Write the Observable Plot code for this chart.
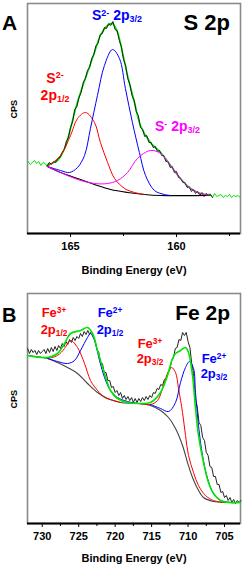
<!DOCTYPE html>
<html><head><meta charset="utf-8">
<script src="https://cdn.jsdelivr.net/npm/d3@7"></script>
<script src="https://cdn.jsdelivr.net/npm/@observablehq/plot@0.6"></script>
<style>
html,body{margin:0;padding:0;background:#fff;}
#wrap{position:relative;width:242px;height:564px;font-family:"Liberation Sans",Arial,sans-serif;overflow:hidden;background:#fff}
#wrap svg{display:block}
.lbl{position:absolute;font-weight:bold;white-space:nowrap;line-height:1}
.c{text-align:center}
.sup{font-size:0.64em;position:relative;top:-0.5em}
.sub{font-size:0.64em;position:relative;top:0.22em}
</style></head>
<body><div id="wrap"></div>
<script>
// ---------- Panel A: S 2p ----------
const sDataStart = 167.0, sDataStep = 0.1;
const sDataCps = [72,69,71,73,70,72,68,71,70,67, 71,69,72,71,75,76,81,84,92,96,
  106,112,124,127,136,141,151,155,163,166, 175,179,188,190,199,200,206,205,210,208,
  212,204,203,193,187,174,168,155,149,138, 133,122,118,106,104,97,98,91,91,86,
  87,82,83,78,78,72,72,66,67,61, 62,56,55,51,51,46,47,42,44,40,
  42,38,41,37,40,38,39,36,40,37, 38,39,36,38,37,39,36,38,37,38, 36];
const sFitE = [166.09,165.61,165.28,165.00,164.76,164.53,164.20,163.87,163.59,163.25,163.02,162.78,162.55,162.31,161.98,161.70,161.23,160.75,160.28,159.81,159.34,158.87,158.40];
const sFitV = [69,73,85,105,125,141,161,181,198,208,210,201,181,158,131,108,91,81,68,55,45,40,39];
const sBgE = [166.09,165.47,164.67,163.87,163.11,162.31,161.51,160.75,158.40];
const sBgV = [67,61,55,49,44,41,39,38,38];
const sRedE = [166.09,165.47,165.00,164.67,164.29,163.87,163.59,163.25,162.92,162.45,161.98,161.51];
const sRedV = [67,78,98,115,121,111,91,71,55,45,41,39];
const sBlueE = [166.09,165.47,165.05,164.67,164.34,164.06,163.73,163.40,163.02,162.69,162.41,162.08,161.75,161.46,161.04,160.57,160.28];
const sBlueV = [67,63,61,66,78,105,138,168,184,175,145,111,81,58,43,39,38];
const sMagE = [166.09,165.47,164.67,163.87,163.25,162.78,162.31,161.84,161.23,160.75,160.28,159.81,159.34,158.87,158.40];
const sMagV = [67,61,54,50,50,53,61,75,83,80,68,55,45,40,38];
const sMajorTicks = [165,160];
const sMinorTicks = [162.5,157.5];

// ---------- Panel B: Fe 2p ----------
const feDataStart = 732.0, feDataStep = 0.25;
const feDataCps = [175,170,174,171,173,169,173,170,172,174,
  170,175,171,176,172,177,173,178,175,180,
  177,182,179,184,181,186,183,187,185,190,
  187,192,189,193,189,192,187,183,174,171,
  161,160,151,151,143,143,136,137,131,133,
  128,131,125,128,124,127,123,126,121,125,
  121,125,122,126,123,127,124,128,126,131,
  130,135,134,139,138,144,145,151,154,163,
  166,175,176,184,183,191,188,191,182,176,
  160,150,125,117,101,98,86,83,71,68,
  57,56,47,47,39,39,31,32,26,28,
  23,26,21,24,20,23,21,23];
const feFitE = [732.02,729.27,727.90,726.94,726.12,724.75,723.79,723.10,722.42,721.46,720.64,719.68,718.30,716.52,715.15,713.78,712.82,712.13,711.72,711.04,710.35,709.94,709.39,708.98,708.57,707.88,707.20,706.51,705.55,704.18,702.81];
const feFitV = [168,166,170,180,190,193,196,190,173,150,133,125,121,120,121,131,148,165,170,173,176,171,148,115,88,61,41,30,23,21,21];
const feBgE = [732.02,729.27,727.90,726.53,725.16,723.79,722.42,721.05,719.26,716.93,715.15,713.78,712.68,711.72,710.76,710.08,709.39,708.71,707.88,706.51,704.59,702.81];
const feBgV = [168,165,161,156,150,140,131,125,121,120,118,113,106,95,78,61,46,35,26,22,21,21];
const feRed1E = [729.27,727.90,726.94,726.12,725.16,724.20,723.38,722.42,721.46,720.64,719.26];
const feRed1V = [165,168,175,183,176,160,143,133,126,124,121];
const feBlue1E = [729.27,727.90,726.53,725.57,724.75,723.79,723.38,722.83,722.14,721.46,720.64,719.68,718.30,716.93];
const feBlue1V = [165,162,160,163,173,186,190,183,163,146,133,126,122,120];
const feRed2E = [716.52,715.15,714.19,713.50,712.82,712.27,711.72,711.31,710.76,710.35,709.94,709.25,708.57,707.61,706.51,705.14];
const feRed2V = [120,119,123,135,150,156,151,135,111,88,68,51,38,28,23,21];
const feBlue2E = [715.15,713.78,712.68,711.72,711.04,710.35,709.80,709.25,708.98,708.57,708.02,707.33,706.51,705.55,704.18];
const feBlue2V = [119,115,112,121,141,156,162,155,131,98,68,45,30,23,21];
const feMajorTicks = [730,725,720,715,710,705];
const feMinorTicks = [727.5,722.5,717.5,712.5,707.5];

// ---------- helpers ----------
const pts = (E, V) => E.map((e, i) => ({e, v: V[i]}));
const grid = (start, step, V) => V.map((v, i) => ({e: +(start - i * step).toFixed(3), v}));
const RED = "#ff0000", BLUE = "#0000ff", MAG = "#ff00ff", GREEN = "#00e400", FRAME = "#8a8a8a";
const FONT = "'Liberation Sans', Arial, sans-serif";
const cv = "catmull-rom";

function panel({xDomain, height, marginTop, marginBottom, marks, major, minor}) {
  const svg = Plot.plot({
    width: 242, height, marginTop, marginBottom, marginLeft: 27, marginRight: 2,
    x: {domain: xDomain},
    y: {domain: [0, 230], axis: null},
    style: {fontFamily: FONT, fontWeight: "bold", fontSize: "11px", color: "black", background: "white", overflow: "visible"},
    marks: [
      Plot.frame({stroke: FRAME, strokeWidth: 1.6}),
      ...marks,
      Plot.ruleY([0], {stroke: "black", strokeWidth: 2}),
      Plot.axisX({ticks: major, tickSize: 4, tickPadding: 5, tickFormat: "d",
        label: "Binding Energy (eV)", labelAnchor: "center", labelArrow: "none"}),
      Plot.axisX({ticks: minor, tickSize: 3, tickFormat: () => "", label: null}),
      Plot.text(["CPS"], {frameAnchor: "left", dx: -13, rotate: -90, text: d => d,
        fontSize: 9, fontWeight: "bold", ariaLabel: "cps"})
    ]
  });
  d3.select(svg).selectAll('g[aria-label="cps"] text').attr("letter-spacing", 1.6);
  return svg;
}

const dataA = grid(sDataStart, sDataStep, sDataCps);
const svgA = panel({
  xDomain: [167.03, 156.98], height: 276, marginTop: 3, marginBottom: 43,
  major: sMajorTicks, minor: sMinorTicks,
  marks: [
    Plot.line(dataA.filter(d => d.e >= 166.0), {x: "e", y: "v", stroke: GREEN, strokeWidth: 1}),
    Plot.line(dataA.filter(d => d.e <= 158.4), {x: "e", y: "v", stroke: GREEN, strokeWidth: 1}),
    Plot.line(pts(sFitE, sFitV), {x: "e", y: "v", stroke: GREEN, strokeWidth: 1.6, curve: cv}),
    Plot.line(dataA.filter(d => d.e <= 166.1 && d.e >= 158.3), {x: "e", y: "v", stroke: "#111", strokeWidth: 0.9}),
    Plot.line(pts(sBgE, sBgV), {x: "e", y: "v", stroke: "#000", strokeWidth: 1.2, curve: cv}),
    Plot.line(pts(sRedE, sRedV), {x: "e", y: "v", stroke: RED, strokeWidth: 1, curve: cv}),
    Plot.line(pts(sBlueE, sBlueV), {x: "e", y: "v", stroke: BLUE, strokeWidth: 1, curve: cv}),
    Plot.line(pts(sMagE, sMagV), {x: "e", y: "v", stroke: MAG, strokeWidth: 1, curve: cv})
  ]
});

const dataB = grid(feDataStart, feDataStep, feDataCps);
const svgB = panel({
  xDomain: [732.02, 702.81], height: 288, marginTop: 17, marginBottom: 41,
  major: feMajorTicks, minor: feMinorTicks,
  marks: [
    Plot.line(pts(feBgE, feBgV), {x: "e", y: "v", stroke: "#444", strokeWidth: 1.1, curve: cv}),
    Plot.line(dataB, {x: "e", y: "v", stroke: "#222", strokeWidth: 1}),
    Plot.line(pts(feRed1E, feRed1V), {x: "e", y: "v", stroke: RED, strokeWidth: 1, curve: cv}),
    Plot.line(pts(feBlue1E, feBlue1V), {x: "e", y: "v", stroke: BLUE, strokeWidth: 1, curve: cv}),
    Plot.line(pts(feRed2E, feRed2V), {x: "e", y: "v", stroke: RED, strokeWidth: 1, curve: cv}),
    Plot.line(pts(feBlue2E, feBlue2V), {x: "e", y: "v", stroke: BLUE, strokeWidth: 1, curve: cv}),
    Plot.line(pts(feFitE, feFitV), {x: "e", y: "v", stroke: GREEN, strokeWidth: 1.6, curve: cv})
  ]
});

const wrap = document.getElementById("wrap");
wrap.appendChild(svgA);
wrap.appendChild(svgB);

// ---------- annotations ----------
const labels = [
  {html: "A", style: "left:2px;top:12.3px;font-size:21px"},
  {html: "S 2p", style: "right:12px;top:12.1px;font-size:22px"},
  {html: 'S<span class="sup">2-</span> 2p<span class="sub">3/2</span>', style: "left:92px;top:8.2px;font-size:14px;color:" + BLUE},
  {html: 'S<span class="sup">2-</span><br>2p<span class="sub">1/2</span>', cls: "c", style: "left:30px;width:50px;top:70.7px;font-size:14px;line-height:15px;color:" + RED},
  {html: 'S<span class="sup">-</span> 2p<span class="sub">3/2</span>', style: "left:155px;top:119.2px;font-size:14px;color:" + MAG},
  {html: "B", style: "left:2px;top:305.4px;font-size:20px"},
  {html: "Fe 2p", style: "right:12px;top:302.3px;font-size:21px"},
  {html: 'Fe<span class="sup">3+</span><br>2p<span class="sub">1/2</span>', cls: "c", style: "left:34px;width:40px;top:305.3px;font-size:13px;line-height:15px;color:" + RED},
  {html: 'Fe<span class="sup">2+</span><br>2p<span class="sub">1/2</span>', cls: "c", style: "left:90px;width:40px;top:305.3px;font-size:13px;line-height:15px;color:" + BLUE},
  {html: 'Fe<span class="sup">3+</span><br>2p<span class="sub">3/2</span>', cls: "c", style: "left:130px;width:40px;top:336.8px;font-size:13px;line-height:14px;color:" + RED},
  {html: 'Fe<span class="sup">2+</span><br>2p<span class="sub">3/2</span>', cls: "c", style: "left:194px;width:40px;top:351.8px;font-size:13px;line-height:14px;color:" + BLUE}
];
for (const l of labels) {
  const d = document.createElement("div");
  d.className = "lbl" + (l.cls ? " " + l.cls : "");
  d.setAttribute("style", l.style);
  d.innerHTML = l.html;
  wrap.appendChild(d);
}
</script>
</body></html>
